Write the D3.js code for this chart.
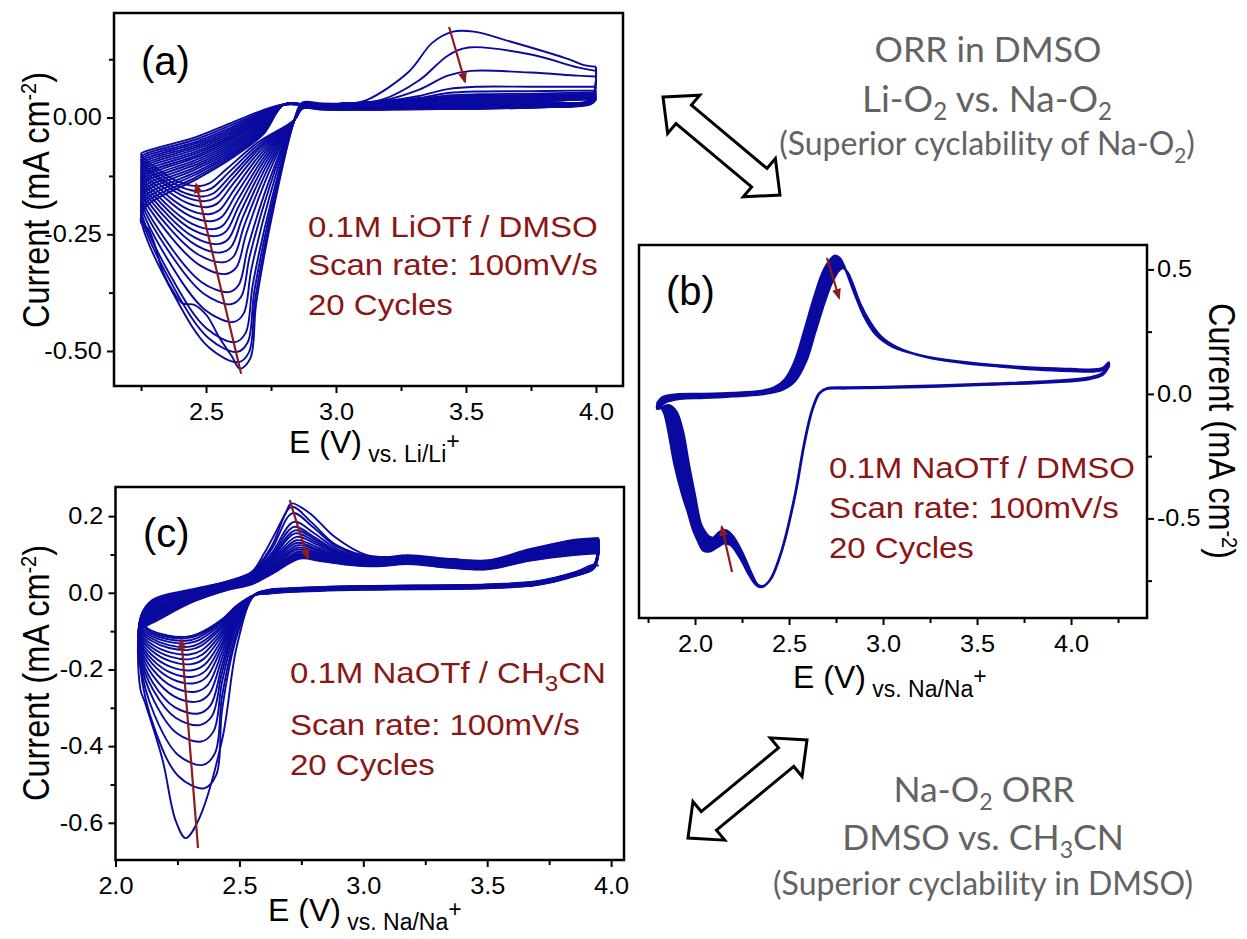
<!DOCTYPE html>
<html>
<head>
<meta charset="utf-8">
<script src="https://cdnjs.cloudflare.com/ajax/libs/d3/7.8.5/d3.min.js"></script>
<style>
  body { margin: 0; background: #fff; }
  svg text { font-family: "Liberation Sans", Arial, sans-serif; }
  .axis text { font-size: 23px; fill: #000; font-family: "Liberation Sans", Arial, sans-serif; }
  .axis line { stroke: #000; stroke-width: 2px; }
  .note { font-size: 30px; fill: #8a1616; }
  .gray { font-family: Lato, "Open Sans", sans-serif; fill: #636363; }
</style>
</head>
<body>
<svg id="fig" width="1247" height="939"></svg>
<script>
const CV_BLUE = "#0a0aa0";
const RED = "#8c1c1c";

// ---- (a) 0.1M LiOTf / DMSO, 20 cycles (values read per cycle) ----
const aPeakE = [2.630, 2.625, 2.620, 2.612, 2.604, 2.595, 2.585, 2.576, 2.566, 2.556, 2.546, 2.537, 2.528, 2.520, 2.511, 2.503, 2.496, 2.489, 2.481, 2.472];
const aPeakI = [-0.538, -0.524, -0.502, -0.481, -0.438, -0.400, -0.374, -0.335, -0.310, -0.289, -0.271, -0.254, -0.239, -0.222, -0.207, -0.192, -0.179, -0.169, -0.158, -0.147];
const aVertI = [-0.225, -0.214, -0.203, -0.194, -0.183, -0.174, -0.165, -0.157, -0.149, -0.141, -0.134, -0.127, -0.120, -0.113, -0.107, -0.101, -0.095, -0.090, -0.084, -0.078];
const aRet227 = [-0.190, -0.182, -0.174, -0.166, -0.158, -0.151, -0.144, -0.137, -0.131, -0.125, -0.119, -0.113, -0.107, -0.102, -0.097, -0.092, -0.087, -0.082, -0.077, -0.072];
const aRet246 = [-0.133, -0.128, -0.122, -0.117, -0.111, -0.106, -0.101, -0.096, -0.091, -0.086, -0.082, -0.077, -0.073, -0.068, -0.064, -0.060, -0.056, -0.052, -0.047, -0.042];
const aRet259 = [-0.090, -0.086, -0.082, -0.078, -0.074, -0.070, -0.066, -0.062, -0.058, -0.054, -0.050, -0.046, -0.043, -0.039, -0.035, -0.031, -0.027, -0.023, -0.018, -0.013];
const aRet272 = [-0.036, -0.033, -0.030, -0.027, -0.024, -0.021, -0.018, -0.015, -0.012, -0.009, -0.006, -0.003, 0.000, 0.003, 0.005, 0.007, 0.009, 0.011, 0.013, 0.016];
const aOxE = [3.46, 3.51, 3.52, 3.54, 3.55, 3.55, 3.56, 3.56, 3.57, 3.57, 3.57, 3.58, 3.58, 3.58, 3.58, 3.59, 3.59, 3.59, 3.59, 3.60];
const aOxI = [0.184, 0.150, 0.100, 0.066, 0.056, 0.050, 0.047, 0.045, 0.043, 0.041, 0.040, 0.039, 0.038, 0.037, 0.036, 0.036, 0.035, 0.035, 0.034, 0.034];
const aEndI = [0.109, 0.100, 0.088, 0.066, 0.058, 0.054, 0.051, 0.049, 0.047, 0.046, 0.045, 0.044, 0.043, 0.042, 0.041, 0.041, 0.040, 0.040, 0.039, 0.039];
const aCathI = [0.030, 0.028, 0.026, 0.025, 0.024, 0.023, 0.022, 0.022, 0.021, 0.021, 0.020, 0.020, 0.019, 0.019, 0.019, 0.018, 0.018, 0.018, 0.017, 0.017];
const aFirstLeft = [[2.60, -0.512], [2.554, -0.474], [2.503, -0.424], [2.455, -0.401], [2.41, -0.398], [2.38, -0.378], [2.335, -0.332], [2.30, -0.268], [2.275, -0.236], [2.25, -0.225]];
const aFirstOx = [[3.12, 0.038], [3.28, 0.098], [3.37, 0.160], [3.45, 0.184], [3.53, 0.184], [3.67, 0.163], [3.90, 0.124], [3.95, 0.113], [4.00, 0.109]];
const aArrows = [[[2.635, -0.549], [2.462, -0.143]], [[3.435, 0.194], [3.496, 0.077]]];

// ---- (b) 0.1M NaOTf / DMSO, first and last cycle (band between them) ----
const bAnodFirst = [[1.80, -0.035], [1.83, -0.012], [1.90, -0.002], [2.05, 0.0], [2.20, 0.004], [2.35, 0.012], [2.42, 0.025], [2.48, 0.06], [2.53, 0.13], [2.58, 0.25], [2.63, 0.38], [2.68, 0.49], [2.72, 0.54], [2.745, 0.555], [2.77, 0.545], [2.80, 0.50], [2.85, 0.40], [2.90, 0.31], [2.96, 0.24], [3.05, 0.19], [3.20, 0.155], [3.40, 0.13], [3.60, 0.115], [3.80, 0.105], [4.00, 0.10], [4.12, 0.098], [4.17, 0.105], [4.20, 0.125]];
const bAnodLast = [[1.80, -0.06], [1.84, -0.035], [1.92, -0.02], [2.05, -0.016], [2.20, -0.01], [2.35, -0.002], [2.46, 0.015], [2.53, 0.05], [2.59, 0.13], [2.64, 0.25], [2.69, 0.37], [2.73, 0.45], [2.765, 0.495], [2.785, 0.505], [2.81, 0.49], [2.84, 0.44], [2.88, 0.36], [2.93, 0.29], [2.99, 0.23], [3.08, 0.185], [3.22, 0.15], [3.42, 0.125], [3.62, 0.11], [3.82, 0.098], [4.00, 0.092], [4.12, 0.09], [4.17, 0.096], [4.20, 0.11]];
const bCathFirst = [[4.20, 0.125], [4.17, 0.085], [4.10, 0.066], [3.90, 0.052], [3.60, 0.042], [3.30, 0.034], [3.00, 0.028], [2.80, 0.026], [2.70, 0.022], [2.66, 0.003], [2.62, -0.07], [2.58, -0.20], [2.53, -0.41], [2.46, -0.63], [2.40, -0.745], [2.36, -0.775], [2.33, -0.77], [2.29, -0.73], [2.24, -0.66], [2.19, -0.607], [2.155, -0.60], [2.12, -0.615], [2.08, -0.632], [2.045, -0.63], [2.015, -0.59], [1.99, -0.546], [1.962, -0.475], [1.934, -0.41], [1.89, -0.28], [1.857, -0.145], [1.835, -0.075], [1.815, -0.05], [1.80, -0.045]];
const bCathLast = [[4.20, 0.11], [4.17, 0.078], [4.10, 0.06], [3.90, 0.047], [3.60, 0.038], [3.30, 0.03], [3.00, 0.024], [2.80, 0.022], [2.70, 0.02], [2.662, 0.002], [2.622, -0.07], [2.582, -0.20], [2.532, -0.41], [2.462, -0.63], [2.402, -0.745], [2.362, -0.772], [2.332, -0.765], [2.30, -0.72], [2.25, -0.635], [2.20, -0.57], [2.165, -0.548], [2.13, -0.555], [2.095, -0.578], [2.075, -0.573], [2.05, -0.55], [2.03, -0.52], [2.0, -0.41], [1.966, -0.278], [1.934, -0.145], [1.90, -0.07], [1.86, -0.045], [1.80, -0.06]];
const bArrows = [[[2.702, 0.546], [2.766, 0.386]], [[2.197, -0.715], [2.142, -0.534]]];

// ---- (c) 0.1M NaOTf / CH3CN, 20 cycles ----
const cPeakE = [2.283, 2.357, 2.352, 2.346, 2.340, 2.334, 2.328, 2.323, 2.318, 2.313, 2.309, 2.305, 2.301, 2.298, 2.295, 2.292, 2.289, 2.286, 2.284, 2.282];
const cPeakI = [-0.640, -0.510, -0.449, -0.388, -0.345, -0.315, -0.284, -0.258, -0.236, -0.219, -0.202, -0.186, -0.173, -0.161, -0.149, -0.141, -0.132, -0.125, -0.119, -0.115];
const cVertI = [-0.250, -0.195, -0.182, -0.172, -0.163, -0.155, -0.147, -0.140, -0.133, -0.127, -0.121, -0.115, -0.110, -0.105, -0.100, -0.095, -0.091, -0.087, -0.083, -0.079];
const cRet211 = [-0.060, -0.062, -0.064, -0.066, -0.067, -0.069, -0.070, -0.072, -0.073, -0.075, -0.076, -0.078, -0.079, -0.081, -0.082, -0.084, -0.085, -0.087, -0.088, -0.090];
const cRet215 = [-0.018, -0.021, -0.024, -0.027, -0.030, -0.034, -0.037, -0.040, -0.043, -0.046, -0.049, -0.052, -0.055, -0.058, -0.061, -0.064, -0.067, -0.070, -0.074, -0.078];
const cRet230 = [0.008, 0.006, 0.004, 0.002, 0.000, -0.002, -0.004, -0.006, -0.008, -0.010, -0.012, -0.014, -0.016, -0.018, -0.019, -0.021, -0.022, -0.024, -0.025, -0.027];
const cRet245 = [0.030, 0.029, 0.027, 0.026, 0.025, 0.024, 0.022, 0.021, 0.020, 0.019, 0.018, 0.016, 0.015, 0.014, 0.013, 0.012, 0.011, 0.010, 0.008, 0.007];
const cRet255 = [0.055, 0.053, 0.051, 0.049, 0.047, 0.046, 0.044, 0.042, 0.040, 0.039, 0.037, 0.035, 0.034, 0.032, 0.031, 0.029, 0.027, 0.026, 0.024, 0.022];
const cOxE = [2.71, 2.71, 2.715, 2.72, 2.72, 2.725, 2.725, 2.73, 2.73, 2.73, 2.735, 2.735, 2.735, 2.74, 2.74, 2.74, 2.74, 2.745, 2.745, 2.745];
const cOxI = [0.233, 0.224, 0.208, 0.185, 0.172, 0.163, 0.155, 0.146, 0.137, 0.130, 0.124, 0.118, 0.113, 0.108, 0.104, 0.100, 0.097, 0.094, 0.091, 0.089];
const cBaseI = [0.095, 0.092, 0.090, 0.088, 0.086, 0.084, 0.083, 0.081, 0.080, 0.079, 0.078, 0.077, 0.076, 0.075, 0.074, 0.073, 0.072, 0.071, 0.070, 0.069];
const cBumpI = [0.137, 0.135, 0.133, 0.130, 0.128, 0.126, 0.124, 0.122, 0.120, 0.118, 0.116, 0.114, 0.112, 0.110, 0.108, 0.106, 0.104, 0.102, 0.100, 0.098];
const cCathI = [0.018, 0.017, 0.017, 0.016, 0.016, 0.015, 0.015, 0.014, 0.014, 0.013, 0.013, 0.012, 0.012, 0.011, 0.011, 0.010, 0.010, 0.009, 0.009, 0.008];
const cFirstLeft = [[2.242, -0.593], [2.19, -0.436], [2.12, -0.288], [2.10, -0.25]];
const cFirstOx = [[2.60, 0.103], [2.686, 0.207], [2.71, 0.233], [2.785, 0.207], [2.884, 0.146], [3.015, 0.098], [3.18, 0.094], [3.35, 0.088], [3.51, 0.085], [3.67, 0.111], [3.84, 0.137], [3.95, 0.143]];
const cArrows = [[[2.333, -0.666], [2.266, -0.123]], [[2.703, 0.242], [2.776, 0.090]]];

// tick values
const aXMajor = [2.5, 3.0, 3.5, 4.0], aXMinor = [2.25, 2.75, 3.25, 3.75];
const aYMajor = [0, -0.25, -0.5], aYMinor = [0.125, -0.125, -0.375];
const bXMajor = [2.0, 2.5, 3.0, 3.5, 4.0], bXMinor = [1.75, 2.25, 2.75, 3.25, 3.75, 4.25];
const bYMajor = [0.5, 0, -0.5], bYMinor = [0.25, -0.25, -0.75];
const cXMajor = [2.0, 2.5, 3.0, 3.5, 4.0], cXMinor = [2.25, 2.75, 3.25, 3.75];
const cYMajor = [0.2, 0, -0.2, -0.4, -0.6], cYMinor = [0.1, -0.1, -0.3, -0.5];

const svg = d3.select("#fig");
const defs = svg.append("defs");
defs.append("marker").attr("id", "ah").attr("viewBox", "0 0 10 10")
  .attr("refX", 8).attr("refY", 5).attr("markerWidth", 5).attr("markerHeight", 5)
  .attr("orient", "auto")
  .append("path").attr("d", "M0,1 L10,5 L0,9 Z").attr("fill", RED);

function drawPanel(cfg) {
  const g = svg.append("g");
  const x = d3.scaleLinear().domain(cfg.xDomain).range([cfg.left, cfg.right]);
  const y = d3.scaleLinear().domain(cfg.yDomain).range([cfg.bottom, cfg.top]);

  g.append("g").attr("class", "axis").attr("transform", `translate(0,${cfg.bottom})`)
    .call(d3.axisBottom(x).tickValues(cfg.xMajor).tickFormat(d => d.toFixed(1)).tickSize(7).tickPadding(11).tickSizeOuter(0));
  g.append("g").attr("class", "axis").attr("transform", `translate(0,${cfg.bottom})`)
    .call(d3.axisBottom(x).tickValues(cfg.xMinor).tickFormat("").tickSize(5).tickSizeOuter(0));

  const yAt = cfg.yRight ? cfg.right : cfg.left;
  const mk = () => cfg.yRight ? d3.axisRight(y) : d3.axisLeft(y);
  g.append("g").attr("class", "axis").attr("transform", `translate(${yAt},0)`)
    .call(mk().tickValues(cfg.yMajor).tickFormat(cfg.yFmt).tickSize(7).tickPadding(cfg.yRight ? 2 : 4).tickSizeOuter(0));
  g.append("g").attr("class", "axis").attr("transform", `translate(${yAt},0)`)
    .call(mk().tickValues(cfg.yMinor).tickFormat("").tickSize(5).tickSizeOuter(0));
  g.selectAll(".domain").remove();
  g.selectAll(".axis text").attr("transform", "scale(1.1,1)");

  g.append("rect")
    .attr("x", cfg.left).attr("y", cfg.top)
    .attr("width", cfg.right - cfg.left).attr("height", cfg.bottom - cfg.top)
    .attr("fill", "none").attr("stroke", "#000").attr("stroke-width", 2.5);

  const line = d3.line().x(d => x(d[0])).y(d => y(d[1])).curve(d3.curveCatmullRom.alpha(0.5));
  return { g, x, y, line };
}

function drawArrows(p, arrows) {
  p.g.selectAll(null).data(arrows).join("line")
    .attr("x1", d => p.x(d[0][0])).attr("y1", d => p.y(d[0][1]))
    .attr("x2", d => p.x(d[1][0])).attr("y2", d => p.y(d[1][1]))
    .attr("stroke", RED).attr("stroke-width", 2.2)
    .attr("marker-end", "url(#ah)");
}

function cycleA(k) {
  const Ep = aPeakE[k], Ip = aPeakI[k], Iv = aVertI[k], c = aCathI[k];
  const prevEnd = k ? aEndI[k - 1] : c + 0.015;
  let p = [[4.0, prevEnd], [3.98, c + 0.012], [3.8, c + 0.005], [3.5, c + 0.002], [3.2, c], [2.95, c], [2.87, c + 0.002],
    [2.84, -0.005],
    [Ep + 0.62 * (2.84 - Ep), 0.36 * Ip], [Ep + 0.3 * (2.84 - Ep), 0.74 * Ip], [Ep + 0.04, 0.96 * Ip], [Ep, Ip]];
  if (k === 0) p = p.concat(aFirstLeft);
  else p.push([Ep - 0.3 * (Ep - 2.25), 0.9 * Ip + 0.1 * Iv], [Ep - 0.65 * (Ep - 2.25), 0.55 * Ip + 0.45 * Iv], [2.25, Iv]);
  p.push([2.27, aRet227[k]], [2.46, aRet246[k]], [2.59, aRet259[k]], [2.72, aRet272[k]], [2.80, 0.028], [2.9, 0.027], [3.05, 0.03]);
  if (k === 0) p = p.concat(aFirstOx);
  else {
    const Ia = aOxI[k], Ea = aOxE[k], Ie = aEndI[k], b = 0.033;
    p.push([3.18, b + 0.05 * (Ia - b)], [3.32, b + 0.4 * (Ia - b)], [3.43, b + 0.85 * (Ia - b)], [Ea, Ia],
      [3.75, Ia - 0.3 * (Ia - Ie)], [3.93, Ie + 0.15 * (Ia - Ie)], [4.0, Ie]);
  }
  return p;
}

function cycleC(k) {
  const Ep = cPeakE[k], Ip = cPeakI[k], Iv = cVertI[k], c = cCathI[k];
  const prevEnd = k ? cBumpI[k - 1] + 0.005 : 0.07;
  let p = [[3.95, prevEnd], [3.93, c + 0.055], [3.85, c + 0.035], [3.7, c + 0.012], [3.5, c + 0.004], [3.0, c],
    [2.7, c - 0.006], [2.62, c - 0.01], [2.56, -0.006],
    [2.49, 0.2 * Ip - 0.01], [2.43, 0.6 * Ip], [Ep + 0.05, 0.93 * Ip], [Ep, Ip]];
  if (k === 0) p = p.concat(cFirstLeft);
  else p.push([Ep - 0.4 * (Ep - 2.1), 0.9 * Ip + 0.1 * Iv], [Ep - 0.78 * (Ep - 2.1), 0.5 * Ip + 0.5 * Iv], [2.10, Iv]);
  p.push([2.103, cRet211[k]], [2.15, cRet215[k]], [2.30, cRet230[k]], [2.45, cRet245[k]], [2.55, cRet255[k]]);
  if (k === 0) p = p.concat(cFirstOx);
  else {
    const Ia = cOxI[k], Ea = cOxE[k], b = cBaseI[k], Ib = cBumpI[k], r = cRet255[k];
    p.push([2.63, r + 0.4 * (Ia - r)], [Ea, Ia], [Ea + 0.08, Ia - 0.3 * (Ia - b)], [Ea + 0.18, b + 0.25 * (Ia - b)],
      [3.05, b], [3.18, b + 0.006], [3.35, b - 0.004], [3.5, b - 0.008], [3.67, (b + Ib) / 2], [3.84, Ib], [3.95, Ib + 0.005]);
  }
  return p;
}

// ---------- panel (a) ----------
const pa = drawPanel({
  left: 114, right: 623, top: 13, bottom: 386,
  xDomain: [2.146, 4.104], yDomain: [-0.575, 0.224],
  xMajor: aXMajor, xMinor: aXMinor, yMajor: aYMajor, yMinor: aYMinor,
  yFmt: d => d.toFixed(2)
});
pa.g.selectAll(null).data(d3.range(aPeakI.length)).join("path")
  .attr("d", k => pa.line(cycleA(k)))
  .attr("fill", "none").attr("stroke", CV_BLUE).attr("stroke-width", 1.9);
drawArrows(pa, aArrows);

// ---------- panel (b) ----------
const pb = drawPanel({
  left: 639, right: 1147, top: 245, bottom: 618,
  xDomain: [1.702, 4.404], yDomain: [-0.90, 0.598],
  xMajor: bXMajor, xMinor: bXMinor, yMajor: bYMajor, yMinor: bYMinor,
  yFmt: d => d.toFixed(1), yRight: true
});
[[bAnodFirst, bAnodLast], [bCathFirst, bCathLast]].forEach(([f, l]) => {
  pb.g.append("path")
    .attr("d", pb.line(f.concat(l.slice().reverse())) + "Z")
    .attr("fill", CV_BLUE).attr("stroke", CV_BLUE).attr("stroke-width", 2.4)
    .attr("stroke-linejoin", "round");
});
drawArrows(pb, bArrows);

// ---------- panel (c) ----------
const pc = drawPanel({
  left: 115.5, right: 624, top: 487, bottom: 860,
  xDomain: [2.0, 4.052], yDomain: [-0.697, 0.276],
  xMajor: cXMajor, xMinor: cXMinor, yMajor: cYMajor, yMinor: cYMinor,
  yFmt: d => d.toFixed(1)
});
pc.g.selectAll(null).data(d3.range(cPeakI.length)).join("path")
  .attr("d", k => pc.line(cycleC(k)))
  .attr("fill", "none").attr("stroke", CV_BLUE).attr("stroke-width", 1.9);
drawArrows(pc, cArrows);

// ---------- axis titles ----------
function xTitle(x0, y0, ref) {
  const t = svg.append("text").attr("x", x0).attr("y", y0).attr("font-size", 32);
  t.append("tspan").text("E (V)");
  t.append("tspan").attr("font-size", 23).attr("dy", 9).text(" vs. " + ref);
  t.append("tspan").attr("font-size", 23).attr("dy", -13).text("+");
}
xTitle(289, 453, "Li/Li");
xTitle(793, 688, "Na/Na");
xTitle(268, 921, "Na/Na");

function yTitle(x0, y0, rot) {
  const t = svg.append("text")
    .attr("transform", `translate(${x0},${y0}) rotate(${rot}) scale(1,1.12)`)
    .attr("text-anchor", "middle").attr("font-size", 32.5);
  t.append("tspan").text("Current (mA cm");
  t.append("tspan").attr("font-size", 20).attr("dy", -12).text("-2");
  t.append("tspan").attr("dy", 12).text(")");
}
yTitle(49, 200, -90);
yTitle(49, 673, -90);
yTitle(1209, 431, 90);

// panel letters
[["(a)", 141, 75], ["(b)", 666, 305], ["(c)", 143, 547]].forEach(([s, x0, y0]) =>
  svg.append("text").attr("x", x0).attr("y", y0).attr("font-size", 40).text(s));

// in-panel notes (slightly wide lettering, as in the figure)
function note(x0, y0, parts) {
  const t = svg.append("text").attr("class", "note")
    .attr("transform", `translate(${x0},${y0}) scale(1.1,1)`);
  parts.forEach(([s, sub], i) => {
    const sp = t.append("tspan").text(s);
    if (sub) sp.attr("font-size", 22).attr("dy", 8);
    else if (i > 0 && parts[i - 1][1]) sp.attr("dy", -8);
  });
}
note(308, 237, [["0.1M LiOTf / DMSO"]]);
note(308, 275, [["Scan rate: 100mV/s"]]);
note(308, 315, [["20 Cycles"]]);
note(829, 478, [["0.1M NaOTf / DMSO"]]);
note(829, 518, [["Scan rate: 100mV/s"]]);
note(829, 558, [["20 Cycles"]]);
note(290, 683, [["0.1M NaOTf / CH"], ["3", true], ["CN"]]);
note(290, 735, [["Scan rate: 100mV/s"]]);
note(290, 775, [["20 Cycles"]]);

// gray side text
function grayText(cx, y0, size, parts) {
  const t = svg.append("text").attr("class", "gray").attr("x", cx).attr("y", y0)
    .attr("text-anchor", "middle").attr("font-size", size);
  parts.forEach(([s, sub], i) => {
    const sp = t.append("tspan").text(s);
    if (sub) sp.attr("font-size", size * 0.65).attr("dy", 8);
    else if (i > 0 && parts[i - 1][1]) sp.attr("dy", -8);
  });
}
grayText(988, 62, 35.5, [["ORR in DMSO"]]);
grayText(987, 112, 37, [["Li-O"], ["2", true], [" vs. Na-O"], ["2", true]]);
grayText(987, 155, 32, [["(Superior cyclability of Na-O"], ["2", true], [")"]]);
grayText(984, 802, 35.5, [["Na-O"], ["2", true], [" ORR"]]);
grayText(983, 850, 35.5, [["DMSO vs. CH"], ["3", true], ["CN"]]);
grayText(983, 895, 32, [["(Superior cyclability in DMSO)"]]);

// hollow double arrows
function doubleArrow(ax, ay, bx, by) {
  const L = Math.hypot(bx - ax, by - ay), h = 27, W = 25, w = 12;
  const local = [[0, 0], [h, -W], [h, -w], [L - h, -w], [L - h, -W], [L, 0], [L - h, W], [L - h, w], [h, w], [h, W]];
  const ang = Math.atan2(by - ay, bx - ax) * 180 / Math.PI;
  svg.append("path")
    .attr("transform", `translate(${ax},${ay}) rotate(${ang})`)
    .attr("d", d3.line()(local) + "Z")
    .attr("fill", "#fff").attr("stroke", "#000").attr("stroke-width", 3).attr("stroke-linejoin", "miter");
}
doubleArrow(663, 97, 780, 195);
doubleArrow(688, 838, 807, 740);
</script>
</body>
</html>
